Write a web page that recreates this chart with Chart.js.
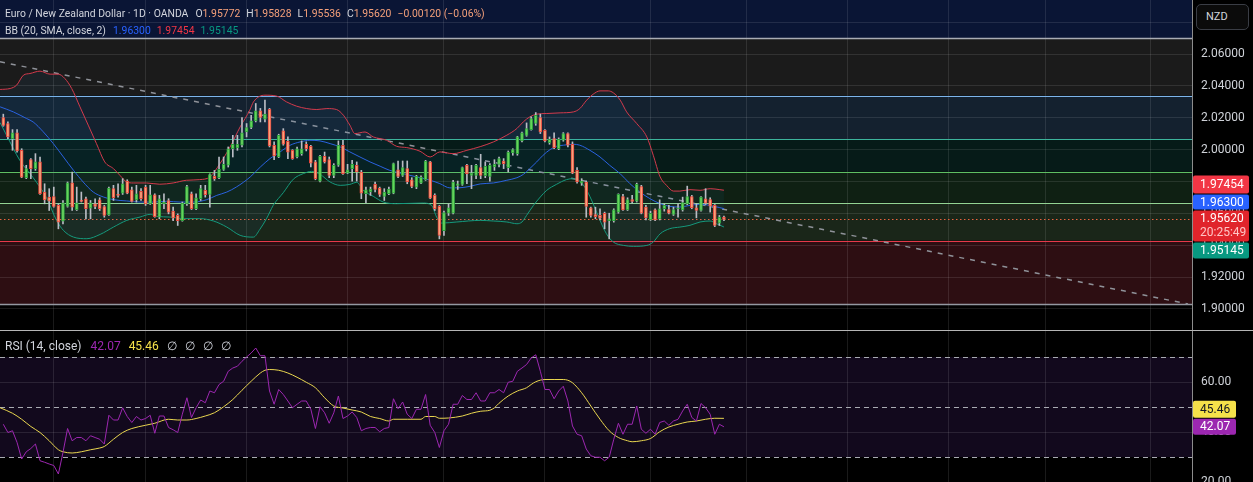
<!DOCTYPE html>
<html>
<head>
<meta charset="utf-8">
<title>EUR/NZD 1D</title>
<script src="https://cdn.jsdelivr.net/npm/chart.js@4.4.1/dist/chart.umd.min.js"></script>
<style>
  html, body { margin:0; padding:0; background:#000; }
  body { width:1253px; height:482px; position:relative; overflow:hidden; font-family: Roboto, "Noto Sans", sans-serif; }
  .pane { position:absolute; left:0; width:1253px; }
  #mainPane { top:0; height:330px; }
  #rsiPane { top:331px; height:151px; }
  #sep { position:absolute; left:0; top:330px; width:1253px; height:1px; background:#b5b5b5; }
  .legend { position:absolute; left:5px; font-size:10.4px; color:#d1d4dc; white-space:nowrap; line-height:16px; }
  .legend .v { margin-right:6px; }
  .legend .t { margin-right:7px; }
  .legend.rsi { font-size:12px; }
  .legend.rsi .v { margin-right:8px; }
  .legend.rsi .t { margin-right:9px; }
  #nzd { position:absolute; left:1196px; top:4px; width:53px; height:26px; box-sizing:border-box; border:1px solid #3a3d45; border-radius:5px;
         background:#0b0b0b; color:#d1d4dc; font-size:11px; line-height:24px; padding-left:9px; }
</style>
</head>
<body>
<div id="mainPane" class="pane"><canvas id="chart1"></canvas></div>
<div id="sep"></div>
<div id="rsiPane" class="pane"><canvas id="chart2"></canvas></div>

<div class="legend" style="top:6px">
  <span class="t">Euro / New Zealand Dollar · 1D · OANDA</span><span>O</span><span class="v" style="color:#f5a07a">1.95772</span><span>H</span><span class="v" style="color:#f5a07a">1.95828</span><span>L</span><span class="v" style="color:#f5a07a">1.95536</span><span>C</span><span class="v" style="color:#f5a07a">1.95620</span><span style="color:#f5a07a">−0.00120 (−0.06%)</span>
</div>
<div class="legend" style="top:23px">
  <span class="t">BB (20, SMA, close, 2)</span><span class="v" style="color:#2962ff">1.96300</span><span class="v" style="color:#f23645">1.97454</span><span class="v" style="color:#089981">1.95145</span>
</div>
<div class="legend rsi" style="top:338px">
  <span class="t">RSI (14, close)</span><span class="v" style="color:#9c27b0">42.07</span><span class="v" style="color:#f5e14a">45.46</span><span class="v">∅</span><span class="v">∅</span><span class="v">∅</span><span class="v">∅</span>
</div>
<div id="nzd">NZD</div>

<script>
Chart.defaults.font.family = 'Roboto, "Noto Sans", sans-serif';
Chart.defaults.animation = false;

// daily candles, oldest first
var opens = [2.0202,2.0164,2.0069,2.0105,1.9996,1.9824,1.9937,1.9881,1.9923,1.9734,
  1.9702,1.9706,1.9650,1.9551,1.9643,1.9792,1.9624,1.9681,1.9692,1.9633,
  1.9660,1.9685,1.9643,1.9591,1.9755,1.9719,1.9727,1.9803,1.9748,1.9685,
  1.9738,1.9765,1.9660,1.9717,1.9576,1.9660,1.9681,1.9614,1.9587,1.9555,
  1.9660,1.9723,1.9629,1.9692,1.9744,1.9719,1.9832,1.9824,1.9876,1.9902,
  2.0006,2.0011,2.0028,2.0111,2.0139,2.0181,2.0244,2.0191,2.0254,2.0028,
  1.9954,2.0118,2.0053,1.9996,1.9954,1.9975,2.0034,2.0021,1.9923,1.9803,
  1.9958,1.9937,1.9839,1.9902,2.0028,1.9853,1.9881,1.9902,1.9860,1.9723,
  1.9734,1.9782,1.9759,1.9706,1.9723,1.9727,1.9874,1.9839,1.9881,1.9811,
  1.9765,1.9790,1.9811,1.9923,1.9713,1.9645,1.9492,1.9601,1.9601,1.9776,
  1.9782,1.9902,1.9839,1.9839,1.9887,1.9836,1.9832,1.9891,1.9908,1.9929,
  1.9887,1.9979,1.9975,2.0055,2.0090,2.0126,2.0164,2.0202,2.0122,2.0044,
  2.0069,2.0006,2.0059,2.0101,2.0034,1.9870,1.9790,1.9797,1.9635,1.9593,
  1.9587,1.9601,1.9555,1.9555,1.9608,1.9706,1.9622,1.9687,1.9677,1.9769,
  1.9639,1.9559,1.9622,1.9566,1.9629,1.9624,1.9593,1.9629,1.9622,1.9660,
  1.9706,1.9635,1.9618,1.9692,1.9687,1.9650,1.9538,1.95772];
var highs = [2.0223,2.0174,2.0126,2.0126,2.0006,1.9902,1.9944,1.9975,1.9954,1.9786,
  1.9755,1.9765,1.9660,1.9681,1.9797,1.9860,1.9765,1.9734,1.9702,1.9681,
  1.9692,1.9698,1.9650,1.9765,1.9776,1.9786,1.9818,1.9811,1.9765,1.9776,
  1.9755,1.9776,1.9776,1.9723,1.9713,1.9723,1.9692,1.9639,1.9597,1.9671,
  1.9776,1.9734,1.9723,1.9776,1.9776,1.9849,1.9870,1.9954,1.9954,2.0017,
  2.0090,2.0090,2.0202,2.0164,2.0216,2.0290,2.0259,2.0311,2.0259,2.0049,
  2.0097,2.0132,2.0080,2.0000,2.0017,2.0055,2.0049,2.0028,1.9933,1.9965,
  1.9985,1.9954,1.9912,2.0055,2.0059,1.9908,1.9933,1.9923,1.9870,1.9765,
  1.9765,1.9797,1.9765,1.9755,1.9765,1.9916,1.9929,1.9929,1.9929,1.9824,
  1.9839,1.9836,1.9933,1.9927,1.9723,1.9650,1.9614,1.9660,1.9807,1.9803,
  1.9891,1.9908,1.9902,1.9908,1.9971,1.9923,1.9912,1.9937,1.9954,1.9944,
  1.9992,2.0006,2.0084,2.0111,2.0168,2.0206,2.0233,2.0223,2.0126,2.0080,
  2.0105,2.0074,2.0107,2.0105,2.0049,1.9887,1.9818,1.9803,1.9639,1.9639,
  1.9629,1.9608,1.9601,1.9629,1.9723,1.9719,1.9698,1.9713,1.9790,1.9776,
  1.9650,1.9614,1.9629,1.9685,1.9660,1.9650,1.9639,1.9660,1.9702,1.9771,
  1.9713,1.9660,1.9706,1.9755,1.9698,1.9656,1.9587,1.95828];
var lows = [2.0147,2.0069,1.9996,1.9985,1.9824,1.9818,1.9818,1.9870,1.9719,1.9660,
  1.9618,1.9639,1.9503,1.9534,1.9639,1.9618,1.9618,1.9671,1.9566,1.9566,
  1.9629,1.9618,1.9576,1.9587,1.9681,1.9702,1.9719,1.9723,1.9671,1.9671,
  1.9681,1.9650,1.9656,1.9576,1.9566,1.9629,1.9597,1.9555,1.9524,1.9551,
  1.9650,1.9624,1.9624,1.9681,1.9702,1.9639,1.9807,1.9818,1.9870,1.9891,
  1.9954,1.9996,2.0017,2.0080,2.0132,2.0174,2.0174,2.0174,2.0017,1.9937,
  1.9950,2.0028,1.9944,1.9939,1.9948,1.9965,1.9992,1.9891,1.9811,1.9797,
  1.9916,1.9824,1.9824,1.9895,1.9845,1.9849,1.9803,1.9803,1.9692,1.9666,
  1.9713,1.9734,1.9706,1.9681,1.9717,1.9723,1.9824,1.9832,1.9786,1.9761,
  1.9755,1.9786,1.9807,1.9692,1.9618,1.9440,1.9461,1.9587,1.9597,1.9750,
  1.9776,1.9786,1.9755,1.9818,1.9818,1.9824,1.9803,1.9870,1.9891,1.9881,
  1.9860,1.9965,1.9965,2.0049,2.0084,2.0122,2.0153,2.0101,2.0049,2.0034,
  2.0006,2.0000,2.0053,2.0017,1.9849,1.9790,1.9776,1.9576,1.9576,1.9566,
  1.9559,1.9503,1.9440,1.9545,1.9601,1.9618,1.9618,1.9664,1.9671,1.9597,
  1.9559,1.9555,1.9555,1.9559,1.9614,1.9597,1.9587,1.9576,1.9614,1.9654,
  1.9629,1.9572,1.9614,1.9656,1.9608,1.9517,1.9524,1.95536];
var closes = [2.0153,2.0080,2.0105,1.9992,1.9828,1.9881,1.9881,1.9923,1.9723,1.9685,
  1.9677,1.9643,1.9545,1.9666,1.9792,1.9639,1.9666,1.9675,1.9629,1.9666,
  1.9643,1.9629,1.9587,1.9759,1.9698,1.9713,1.9786,1.9727,1.9675,1.9723,
  1.9692,1.9660,1.9717,1.9580,1.9692,1.9671,1.9608,1.9572,1.9555,1.9664,
  1.9769,1.9629,1.9698,1.9755,1.9717,1.9843,1.9818,1.9876,1.9908,2.0006,
  2.0034,2.0034,2.0105,2.0139,2.0181,2.0244,2.0202,2.0223,2.0023,1.9960,
  2.0090,2.0034,1.9985,1.9944,2.0006,2.0006,2.0006,1.9916,1.9818,1.9958,
  1.9923,1.9839,1.9902,2.0028,1.9849,1.9874,1.9908,1.9860,1.9727,1.9748,
  1.9752,1.9750,1.9719,1.9734,1.9752,1.9912,1.9832,1.9887,1.9797,1.9769,
  1.9832,1.9828,1.9929,1.9696,1.9629,1.9461,1.9605,1.9635,1.9797,1.9786,
  1.9887,1.9849,1.9853,1.9902,1.9839,1.9895,1.9902,1.9908,1.9944,1.9912,
  1.9985,2.0000,2.0080,2.0105,2.0132,2.0195,2.0216,2.0111,2.0055,2.0065,
  2.0013,2.0065,2.0101,2.0028,1.9853,1.9797,1.9803,1.9643,1.9587,1.9580,
  1.9570,1.9545,1.9566,1.9622,1.9719,1.9622,1.9687,1.9675,1.9782,1.9601,
  1.9572,1.9601,1.9559,1.9629,1.9650,1.9601,1.9624,1.9635,1.9668,1.9706,
  1.9635,1.9618,1.9702,1.9664,1.9645,1.9524,1.9577,1.95620];

// Bollinger bands: [candle position, price]
var bbUpper = [[-0.7,2.0378],[1.5,2.0384],[2.9,2.0405],[4.4,2.0468],[5.8,2.0478],[8,2.0493],[10.2,2.0474],[12,2.0474],
  [13.4,2.0447],[14.9,2.0384],[16.7,2.0269],[18.5,2.0154],[20.3,2.0038],[22.1,1.9923],[24,1.9881],[25.4,1.9839],
  [26.9,1.9797],[28.3,1.9791],[31.2,1.9791],[34.1,1.9783],[37,1.9791],[39.9,1.9808],[42.8,1.9812],[45,1.9829],
  [47.2,1.9912],[49.4,2.0017],[51.6,2.0143],[53.7,2.0248],[54.5,2.0300],[57,2.0342],[59.6,2.0336],[61.7,2.0300],
  [63.9,2.0273],[66.1,2.0258],[68.3,2.0252],[70.5,2.0258],[72.6,2.0252],[74.1,2.0216],[75.5,2.0154],[76.6,2.0101],
  [78.8,2.0111],[80.6,2.0080],[83.5,2.0059],[85.7,2.0021],[87.9,2.0013],[90.8,1.9990],[93,1.9954],[95.1,1.9986],
  [98,1.9975],[101,1.9996],[103.9,2.0019],[106.8,2.0049],[109.7,2.0091],[111.9,2.0133],[113.3,2.0175],[114.7,2.0206],
  [116.2,2.0223],[118.4,2.0227],[121.3,2.0231],[124.2,2.0237],[125.6,2.0258],[127.1,2.0311],[128.5,2.0348],[130,2.0369],
  [131.8,2.0369],[132.9,2.0357],[134.4,2.0311],[135.8,2.0237],[138,2.0164],[140.2,2.0080],[141.6,1.9965],[143.1,1.9829],
  [144.5,1.9776],[146,1.9740],[147.4,1.9740],[149.6,1.9749],[151.8,1.9745],[154,1.9755],[156.1,1.9749],[157,1.97454]];
var bbBasis = [[-0.7,2.0269],[2.2,2.0237],[5.1,2.0195],[6.5,2.0174],[8.7,2.0112],[10.9,2.0038],[13.1,1.9954],[15.3,1.9870],
  [17.4,1.9797],[19.6,1.9734],[21.8,1.9703],[24,1.9686],[26.9,1.9678],[29.8,1.9671],[32.7,1.9671],[35.6,1.9676],
  [38.5,1.9671],[41.4,1.9671],[44.3,1.9686],[46.5,1.9713],[48.7,1.9734],[50.8,1.9766],[53.8,1.9829],[56,1.9891],
  [58.1,1.9944],[60.3,1.9986],[62.5,2.0028],[64.7,2.0049],[66.8,2.0059],[69,2.0055],[71.2,2.0038],[73.4,2.0017],
  [75.5,1.9986],[77.7,1.9954],[79.9,1.9923],[82.1,1.9896],[84.2,1.9870],[86.4,1.9854],[88.6,1.9839],[90.8,1.9824],
  [93,1.9808],[95.1,1.9787],[97.3,1.9760],[99.5,1.9761],[101.7,1.9770],[103.9,1.9785],[106.8,1.9791],[109.7,1.9808],
  [111.9,1.9824],[113.3,1.9845],[114.7,1.9881],[116.2,1.9923],[117.6,1.9965],[119.1,2.0000],[120.5,2.0021],[122,2.0028],
  [124.2,2.0034],[125.6,2.0028],[127.8,1.9996],[130,1.9954],[132.1,1.9902],[134.4,1.9849],[136.5,1.9787],[138.7,1.9734],
  [140.9,1.9692],[143.1,1.9661],[145.2,1.9644],[147.4,1.9640],[149.6,1.9650],[151.8,1.9657],[154,1.9650],[156.1,1.9636],
  [157,1.96300]];
var bbLower = [[-0.7,2.0170],[0.7,2.0091],[3.6,1.9933],[6.5,1.9824],[9.4,1.9699],[11.6,1.9556],[13.1,1.9493],[15.3,1.9451],
  [18.2,1.9441],[21.1,1.9468],[24,1.9514],[26.9,1.9556],[29.8,1.9577],[32,1.9594],[33.4,1.9581],[36.3,1.9577],
  [39.2,1.9567],[42.8,1.9567],[45.8,1.9552],[48.7,1.9514],[51.6,1.9462],[54.5,1.9451],[55.9,1.9500],[57.4,1.9570],
  [58.8,1.9650],[61,1.9730],[63.2,1.9815],[65.4,1.9850],[67.2,1.9864],[69,1.9845],[71.2,1.9797],[73.4,1.9776],
  [75.5,1.9782],[77,1.9795],[78.4,1.9745],[80.6,1.9707],[82.8,1.9671],[85.7,1.9661],[91.5,1.9665],[93.3,1.9650],
  [94.4,1.9577],[95.5,1.9539],[98.8,1.9546],[103.9,1.9556],[106.8,1.9552],[109.7,1.9546],[111.9,1.9535],[113,1.9546],
  [114,1.9587],[115.5,1.9650],[117,1.9703],[118.4,1.9745],[120.5,1.9782],[122.7,1.9812],[124.2,1.9818],[125.6,1.9803],
  [127.1,1.9745],[128.5,1.9661],[130,1.9556],[131.4,1.9472],[132.9,1.9420],[135.1,1.9399],[137.3,1.9393],[140.2,1.9399],
  [141.6,1.9420],[143.1,1.9472],[145.2,1.9504],[147.4,1.9514],[149.6,1.9525],[151.8,1.9546],[154,1.9552],[155.4,1.9535],
  [157,1.95145]];

// drawn trend line (start, end)
var trendLine = [[-0.72,2.0552],[258.1,1.9031]];

// horizontal levels and the zones between them (top to bottom)
var levelPrices = [2.0701, 2.0339, 2.0064, 1.9861, 1.9667, 1.9428, 1.9030];
var levelColors = ['#a9acb4', '#7db4ea', '#3db49c', '#5fbf62', '#93d493', '#e5394a', '#9598a1'];
var zoneColors = ['#0a1535', '#1b1b1b', '#14212f', '#061b18', '#0f2013', '#1a2619', '#2d0e12', '#000000'];

// month boundaries (candle positions)
var monthTicks = [11, 31, 53, 75, 96, 118, 141, 162, 184, 206, 227, 250];

// RSI(14) per candle and its moving average
var rsi = [43.1,39.8,40.5,35.8,29.2,32.1,33.4,35.2,28.5,27.9,
  27.2,26.6,23.2,31.8,41.4,36.5,37.8,37.8,36.5,38.5,
  37.8,37.1,35.2,46.7,44.8,44.8,49.7,46.2,43.8,46.2,
  44.8,45.4,46.7,39.5,46.4,46.4,41.8,40.9,39.8,47.1,
  53.7,45.8,49.7,52.8,51.7,56.4,55.7,59.0,60.3,64.3,
  65.6,66.3,68.3,70.0,71.6,73.6,70.5,70.5,56.4,51.1,
  57.0,55.0,52.4,49.7,51.1,52.4,52.4,49.1,41.4,50.1,
  47.7,43.5,47.7,54.4,45.4,46.4,48.0,45.8,40.5,41.4,
  41.8,41.8,40.1,41.4,41.8,53.3,49.3,52.0,47.1,45.4,
  49.1,49.1,55.0,42.7,39.8,33.8,40.5,43.1,51.1,51.1,
  54.6,53.0,53.0,55.7,52.4,52.4,55.7,55.7,57.0,55.7,
  59.9,60.3,64.3,65.6,67.0,69.6,70.9,64.3,57.0,57.0,
  53.3,56.4,58.3,52.4,42.4,39.1,38.5,33.2,30.5,29.9,
  29.9,28.5,29.9,37.1,43.5,39.1,43.1,43.1,50.4,41.1,
  39.5,41.1,39.1,43.8,44.4,42.7,44.4,45.1,48.4,51.1,
  45.8,44.4,51.4,49.7,47.1,39.1,43.1,42.07];
var rsiMA = [[-0.7,49.7],[2,47.5],[4,45.1],[6,42.2],[8,39.8],[10,36.5],[12,32.9],[13,32.1],[15,31.6],[17,32.1],
  [19,32.9],[21,33.6],[22,34.2],[24,37.1],[26,39.8],[28,41.4],[31,42.7],[33,43.5],[36,45.1],[38,44.8],
  [40,44.8],[42,45.4],[44,46.4],[46,47.7],[48,50.1],[50,53.0],[52,56.7],[54,60.3],[56,63.6],[57,64.7],
  [58,65.0],[60,64.7],[62,63.6],[64,61.9],[66,59.9],[68,57.7],[70,53.7],[72,50.4],[74,49.6],[76,48.8],
  [78,48.0],[80,46.2],[82,45.4],[84,44.4],[85,45.1],[88,45.1],[91,45.1],[92,46.2],[94,46.2],[95,45.5],
  [97,45.6],[100,46.4],[102,47.5],[104,48.3],[106,48.7],[107,49.7],[108,51.5],[110,54.4],[112,56.4],[114,57.7],
  [115,59.0],[116,60.1],[118,61.0],[120,61.0],[122,61.0],[123,60.7],[124,59.7],[126,55.7],[128,50.4],[130,45.1],
  [132,40.5],[134,37.8],[136,36.5],[137,36.1],[139,36.5],[141,37.4],[143,40.1],[145,42.0],[147,43.1],[149,44.0],
  [151,44.4],[153,45.1],[155,45.5],[157,45.46]];
var rsiLevels = [70, 50, 30];

var lastClose = 1.95620;
var xMin = -0.72, xMax = 258.97;   // visible candle range incl. empty future space

var UP_FILL = '#66d45c', UP_LINE = '#2e9e3e', DN_FILL = '#f6a27a', DN_LINE = '#e5473d';
var GRID = 'rgba(255,255,255,0.10)';

function pts(arr) { return arr.map(function (p) { return {x: p[0], y: p[1]}; }); }
var isUp = closes.map(function (c, i) { return c >= opens[i]; });

function xScale() {
  return {
    type: 'linear', min: xMin, max: xMax, offset: false,
    grid: {color: GRID, drawTicks: false, offset: false},
    border: {display: false},
    ticks: {display: false},
    afterBuildTicks: function (s) { s.ticks = monthTicks.map(function (v) { return {value: v}; }); }
  };
}

// price axis: fixed width, no label overhang padding so the plot fills the pane
function fitRightAxis(s) {
  s.width = 61;
  s.paddingTop = 0;
  s.paddingBottom = 0;
}

function roundRect(ctx, x, y, w, h, r) {
  ctx.beginPath();
  ctx.moveTo(x + r, y); ctx.lineTo(x + w - r, y); ctx.quadraticCurveTo(x + w, y, x + w, y + r);
  ctx.lineTo(x + w, y + h - r); ctx.quadraticCurveTo(x + w, y + h, x + w - r, y + h);
  ctx.lineTo(x + r, y + h); ctx.quadraticCurveTo(x, y + h, x, y + h - r);
  ctx.lineTo(x, y + r); ctx.quadraticCurveTo(x, y, x + r, y);
  ctx.closePath();
}

// stack value labels on the price axis so they don't overlap, anchored on one of them
function drawBadges(chart, items, width, anchorOff) {
  var ctx = chart.ctx, y = chart.scales.y, left = chart.chartArea.right + 1;
  items.forEach(function (it) { it.c = y.getPixelForValue(it.value); });
  var a = items.filter(function (it) { return it.anchor; })[0];
  a.top = a.c - anchorOff; a.bot = a.top + a.h;
  var lim = a.top - 1;
  items.filter(function (it) { return !it.anchor && it.value > a.value; })
    .sort(function (p, q) { return p.value - q.value; })
    .forEach(function (it) { it.bot = Math.min(it.c + it.h / 2, lim); it.top = it.bot - it.h; lim = it.top - 1; });
  lim = a.bot + 1;
  items.filter(function (it) { return !it.anchor && it.value <= a.value; })
    .sort(function (p, q) { return q.value - p.value; })
    .forEach(function (it) { it.top = Math.max(it.c - it.h / 2, lim); it.bot = it.top + it.h; lim = it.bot + 1; });
  ctx.save();
  ctx.font = '12px Roboto, "Noto Sans", sans-serif';
  ctx.textBaseline = 'middle';
  items.forEach(function (it) {
    ctx.fillStyle = it.bg;
    roundRect(ctx, left, it.top, width, it.h, 2);
    ctx.fill();
    ctx.fillStyle = it.fg;
    ctx.fillText(it.text, left + 7, it.top + it.h1 / 2 + 0.5);
    if (it.text2) { ctx.fillStyle = it.fg2; ctx.fillText(it.text2, left + 7, it.top + 23); }
  });
  ctx.restore();
}

var pricePanePlugin = {
  id: 'pricePane',
  beforeDraw: function (chart) {
    var ctx = chart.ctx, a = chart.chartArea, y = chart.scales.y;
    ctx.save();
    ctx.fillStyle = '#000';
    ctx.fillRect(0, 0, chart.width, chart.height);
    for (var i = 0; i < zoneColors.length; i++) {
      var top = i === 0 ? a.top : y.getPixelForValue(levelPrices[i - 1]);
      var bot = i < levelPrices.length ? y.getPixelForValue(levelPrices[i]) : a.bottom;
      ctx.fillStyle = zoneColors[i];
      ctx.fillRect(a.left, top, a.width, bot - top);
    }
    ctx.restore();
  },
  beforeDatasetsDraw: function (chart) {
    var ctx = chart.ctx, a = chart.chartArea, y = chart.scales.y;
    ctx.save();
    levelPrices.forEach(function (p, i) {
      var py = Math.round(y.getPixelForValue(p)) + 0.5;
      ctx.strokeStyle = levelColors[i];
      ctx.lineWidth = i === 0 || i === levelPrices.length - 1 ? 1.5 : 1.2;
      ctx.beginPath(); ctx.moveTo(a.left, py); ctx.lineTo(a.right, py); ctx.stroke();
    });
    var cy = Math.round(y.getPixelForValue(lastClose)) + 0.5;
    ctx.strokeStyle = '#e8623f';
    ctx.setLineDash([1.5, 2.5]);
    ctx.lineWidth = 1;
    ctx.beginPath(); ctx.moveTo(a.left, cy); ctx.lineTo(a.right, cy); ctx.stroke();
    ctx.restore();
  },
  afterDraw: function (chart) {
    drawBadges(chart, [
      {value: 1.97454, h: 18, h1: 18, bg: '#f23645', fg: '#ffffff', text: '1.97454'},
      {value: 1.96300, h: 15, h1: 16, bg: '#2962ff', fg: '#ffffff', text: '1.96300'},
      {value: lastClose, h: 31, h1: 16, bg: '#e0242b', fg: '#ffffff', text: '1.95620', text2: '20:25:49', fg2: '#ffc4c4', anchor: true},
      {value: 1.95145, h: 16, h1: 16, bg: '#089981', fg: '#ffffff', text: '1.95145'}
    ], 56, 9);
  }
};

var rsiPanePlugin = {
  id: 'rsiPane',
  beforeDraw: function (chart) {
    var ctx = chart.ctx, a = chart.chartArea, y = chart.scales.y;
    ctx.save();
    ctx.fillStyle = '#000';
    ctx.fillRect(0, 0, chart.width, chart.height);
    var t = y.getPixelForValue(rsiLevels[0]), b = y.getPixelForValue(rsiLevels[2]);
    ctx.fillStyle = '#12091d';
    ctx.fillRect(a.left, t, a.width, b - t);
    ctx.restore();
  },
  beforeDatasetsDraw: function (chart) {
    var ctx = chart.ctx, a = chart.chartArea, y = chart.scales.y;
    ctx.save();
    ctx.strokeStyle = '#a9abb2';
    ctx.lineWidth = 1;
    ctx.setLineDash([5, 4]);
    rsiLevels.forEach(function (v) {
      var py = Math.round(y.getPixelForValue(v)) + 0.5;
      ctx.beginPath(); ctx.moveTo(a.left, py); ctx.lineTo(a.right, py); ctx.stroke();
    });
    ctx.restore();
  },
  afterDraw: function (chart) {
    drawBadges(chart, [
      {value: 45.46, h: 17, h1: 17, bg: '#f5e14a', fg: '#131722', text: '45.46'},
      {value: 42.07, h: 16, h1: 16, bg: '#9c27b0', fg: '#ffffff', text: '42.07', anchor: true}
    ], 43, 8);
  }
};

var ctx1 = document.getElementById('chart1');
var chart1 = new Chart(ctx1, {
  type: 'bar',
  data: {
    datasets: [{
      label: 'body',
      data: opens.map(function (o, i) { return {x: i, y: [o, closes[i]]}; }),
      backgroundColor: isUp.map(function (u) { return u ? UP_FILL : DN_FILL; }),
      borderColor: isUp.map(function (u) { return u ? UP_LINE : DN_LINE; }),
      borderWidth: 1, borderSkipped: false, barThickness: 3, minBarLength: 1, grouped: false, order: 1
    }, {
      label: 'wick',
      data: lows.map(function (l, i) { return {x: i, y: [l, highs[i]]}; }),
      backgroundColor: '#b9bcc4', barThickness: 1, grouped: false, order: 2
    }, {
      type: 'line', label: 'upper', data: pts(bbUpper),
      borderColor: '#d33a4c', borderWidth: 1, pointRadius: 0, cubicInterpolationMode: 'monotone', order: 3
    }, {
      type: 'line', label: 'basis', data: pts(bbBasis),
      borderColor: '#2a62e0', borderWidth: 1, pointRadius: 0, cubicInterpolationMode: 'monotone', order: 3
    }, {
      type: 'line', label: 'lower', data: pts(bbLower),
      borderColor: '#15997c', borderWidth: 1, pointRadius: 0, cubicInterpolationMode: 'monotone', order: 3,
      fill: {target: 2, above: 'rgba(33,150,243,0.06)', below: 'rgba(33,150,243,0.06)'}
    }, {
      type: 'line', label: 'trend', data: pts(trendLine),
      borderColor: '#8f9299', borderWidth: 1.5, borderDash: [5, 6], pointRadius: 0, order: 4
    }]
  },
  options: {
    responsive: true,
    maintainAspectRatio: false,
    layout: {padding: 0},
    plugins: {legend: {display: false}, tooltip: {enabled: false}},
    scales: {
      x: xScale(),
      y: {
        position: 'right', min: 1.88679, max: 2.09396, beginAtZero: false,
        grid: {color: GRID, drawTicks: false},
        border: {display: true, color: '#8c8c8c'},
        ticks: {stepSize: 0.02, includeBounds: false, padding: 9, color: '#cfd2d8', font: {size: 12},
          callback: function (v) { return v.toFixed(5); }},
        afterFit: fitRightAxis
      }
    }
  },
  plugins: [pricePanePlugin]
});

var ctx2 = document.getElementById('chart2');
var chart2 = new Chart(ctx2, {
  type: 'line',
  data: {
    datasets: [{
      label: 'RSI', data: rsi.map(function (v, i) { return {x: i, y: v}; }),
      borderColor: '#9c27b0', borderWidth: 1, pointRadius: 0, tension: 0
    }, {
      label: 'RSI-based MA', data: pts(rsiMA),
      borderColor: '#e9d64f', borderWidth: 1, pointRadius: 0, cubicInterpolationMode: 'monotone'
    }]
  },
  options: {
    responsive: true,
    maintainAspectRatio: false,
    layout: {padding: 0},
    plugins: {legend: {display: false}, tooltip: {enabled: false}},
    scales: {
      x: xScale(),
      y: {
        position: 'right', min: 20, max: 80.4,
        grid: {color: GRID, drawTicks: false},
        border: {display: true, color: '#8c8c8c'},
        ticks: {stepSize: 20, includeBounds: false, padding: 9, color: '#cfd2d8', font: {size: 12},
          callback: function (v) { return v.toFixed(2); }},
        afterBuildTicks: function (s) { s.ticks = s.ticks.filter(function (t) { return t.value <= 60; }); },
        afterFit: fitRightAxis
      }
    }
  },
  plugins: [rsiPanePlugin]
});
</script>
</body>
</html>
